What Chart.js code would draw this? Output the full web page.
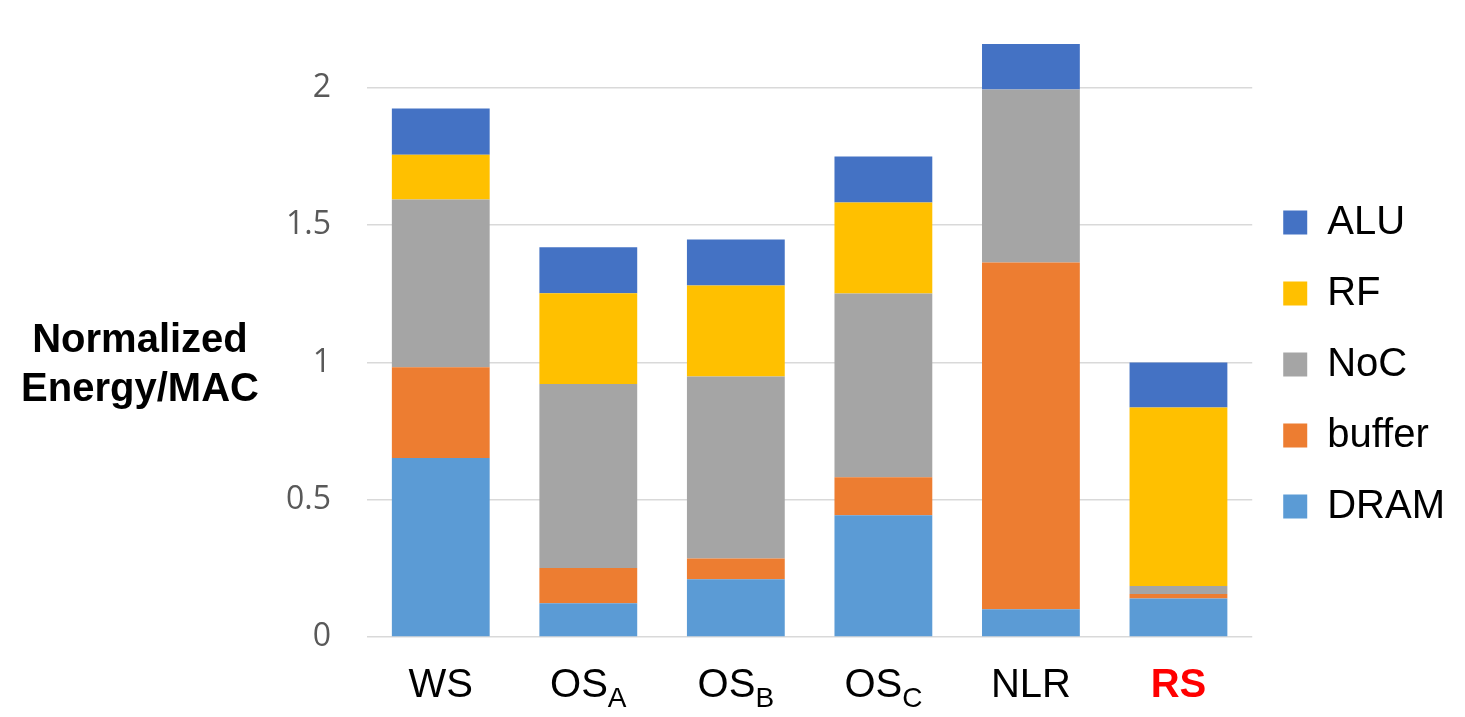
<!DOCTYPE html>
<html>
<head>
<meta charset="utf-8">
<script src="https://cdn.jsdelivr.net/npm/chart.js@4.4.1/dist/chart.umd.min.js"></script>
<style>
  body { margin: 0; background: #fff; }
  #wrap { width: 1465px; height: 717px; position: relative; }
</style>
</head>
<body>
<div id="wrap"><canvas id="graphique-energie"></canvas></div>
<script>
// categories (main text + subscript)
const categories = ["WS", "OS", "OS", "OS", "NLR", "RS"];
const subscripts = ["", "A", "B", "C", "", ""];

// energy per segment, stacked from bottom to top
const dram = [0.652, 0.123, 0.210, 0.443, 0.101, 0.140];
const buffer = [0.330, 0.128, 0.076, 0.139, 1.263, 0.017];
const noc = [0.611, 0.670, 0.663, 0.669, 0.630, 0.029];
const rf = [0.163, 0.331, 0.331, 0.331, 0, 0.650];
const alu = [0.169, 0.167, 0.168, 0.168, 0.166, 0.164];

const yTicks = [0, 0.5, 1, 1.5, 2];
const yTitle = ["Normalized", "Energy/MAC"];

// titre de l'axe Y (horizontal) + labels X avec indices
const labelsPlugin = {
  id: "labelsPlugin",
  afterDraw(chart) {
    const ctx = chart.ctx;
    ctx.save();
    ctx.fillStyle = "#000";
    ctx.textAlign = "center";
    ctx.textBaseline = "middle";
    ctx.font = "bold 40px 'Liberation Sans', Arial, sans-serif";
    ctx.fillText(yTitle[0], 140, 341);
    ctx.fillText(yTitle[1], 140, 390);

    const xScale = chart.scales.x;
    ctx.textBaseline = "alphabetic";
    ctx.textAlign = "left";
    for (let i = 0; i < categories.length; i++) {
      const isRS = categories[i] === "RS";
      const mainFont = (isRS ? "bold " : "") + "40px 'Liberation Sans', Arial, sans-serif";
      const subFont = "28px 'Liberation Sans', Arial, sans-serif";
      ctx.font = mainFont;
      const w1 = ctx.measureText(categories[i]).width;
      ctx.font = subFont;
      const w2 = subscripts[i] ? ctx.measureText(subscripts[i]).width : 0;
      const cx = xScale.getPixelForValue(i);
      const x0 = cx - (w1 + w2) / 2;
      ctx.fillStyle = isRS ? "#ff0000" : "#000";
      ctx.font = mainFont;
      ctx.fillText(categories[i], x0, 697);
      if (subscripts[i]) {
        ctx.font = subFont;
        ctx.fillText(subscripts[i], x0 + w1, 707);
      }
    }
    ctx.restore();
  },
};

const data = {
  labels: categories.map((c, i) => c + subscripts[i]),
  datasets: [
    { label: "DRAM", data: dram, backgroundColor: "#5b9bd5" },
    { label: "buffer", data: buffer, backgroundColor: "#ed7d31" },
    { label: "NoC", data: noc, backgroundColor: "#a5a5a5" },
    { label: "RF", data: rf, backgroundColor: "#ffc000" },
    { label: "ALU", data: alu, backgroundColor: "#4472c4" },
  ],
};

const config = {
  type: "bar",
  data: data,
  options: {
    responsive: true,
    maintainAspectRatio: false,
    animation: false,
    layout: { padding: { top: 12, right: 10 } },
    datasets: {
      bar: { categoryPercentage: 1, barPercentage: 0.663 },
    },
    plugins: {
      tooltip: { enabled: false },
      legend: {
        position: "right",
        reverse: true,
        labels: {
          boxWidth: 24,
          boxHeight: 24,
          padding: 31,
          color: "#000",
          font: { size: 40, family: "'Liberation Sans', Arial, sans-serif" },
        },
      },
    },
    scales: {
      x: {
        stacked: true,
        grid: { display: false },
        border: { display: false },
        ticks: { display: false },
        afterFit: (scale) => { scale.height = 80; },
      },
      y: {
        stacked: true,
        min: 0,
        max: 2.25,
        border: { display: false },
        // tick marks transparents : ils ne servent qu'a decaler les labels
        grid: { color: "#d9d9d9", lineWidth: 1.5, drawTicks: true, tickLength: 36, tickColor: "rgba(0,0,0,0)" },
        afterBuildTicks: (scale) => { scale.ticks = yTicks.map((v) => ({ value: v })); },
        afterFit: (scale) => { scale.width = 367; },
        ticks: {
          padding: 0,
          color: "#595959",
          font: { size: 32, family: "'Open Sans', sans-serif" },
          callback: (v) => String(v),
        },
      },
    },
  },
  plugins: [labelsPlugin],
};

new Chart(document.querySelector("#graphique-energie"), config);
</script>
</body>
</html>
